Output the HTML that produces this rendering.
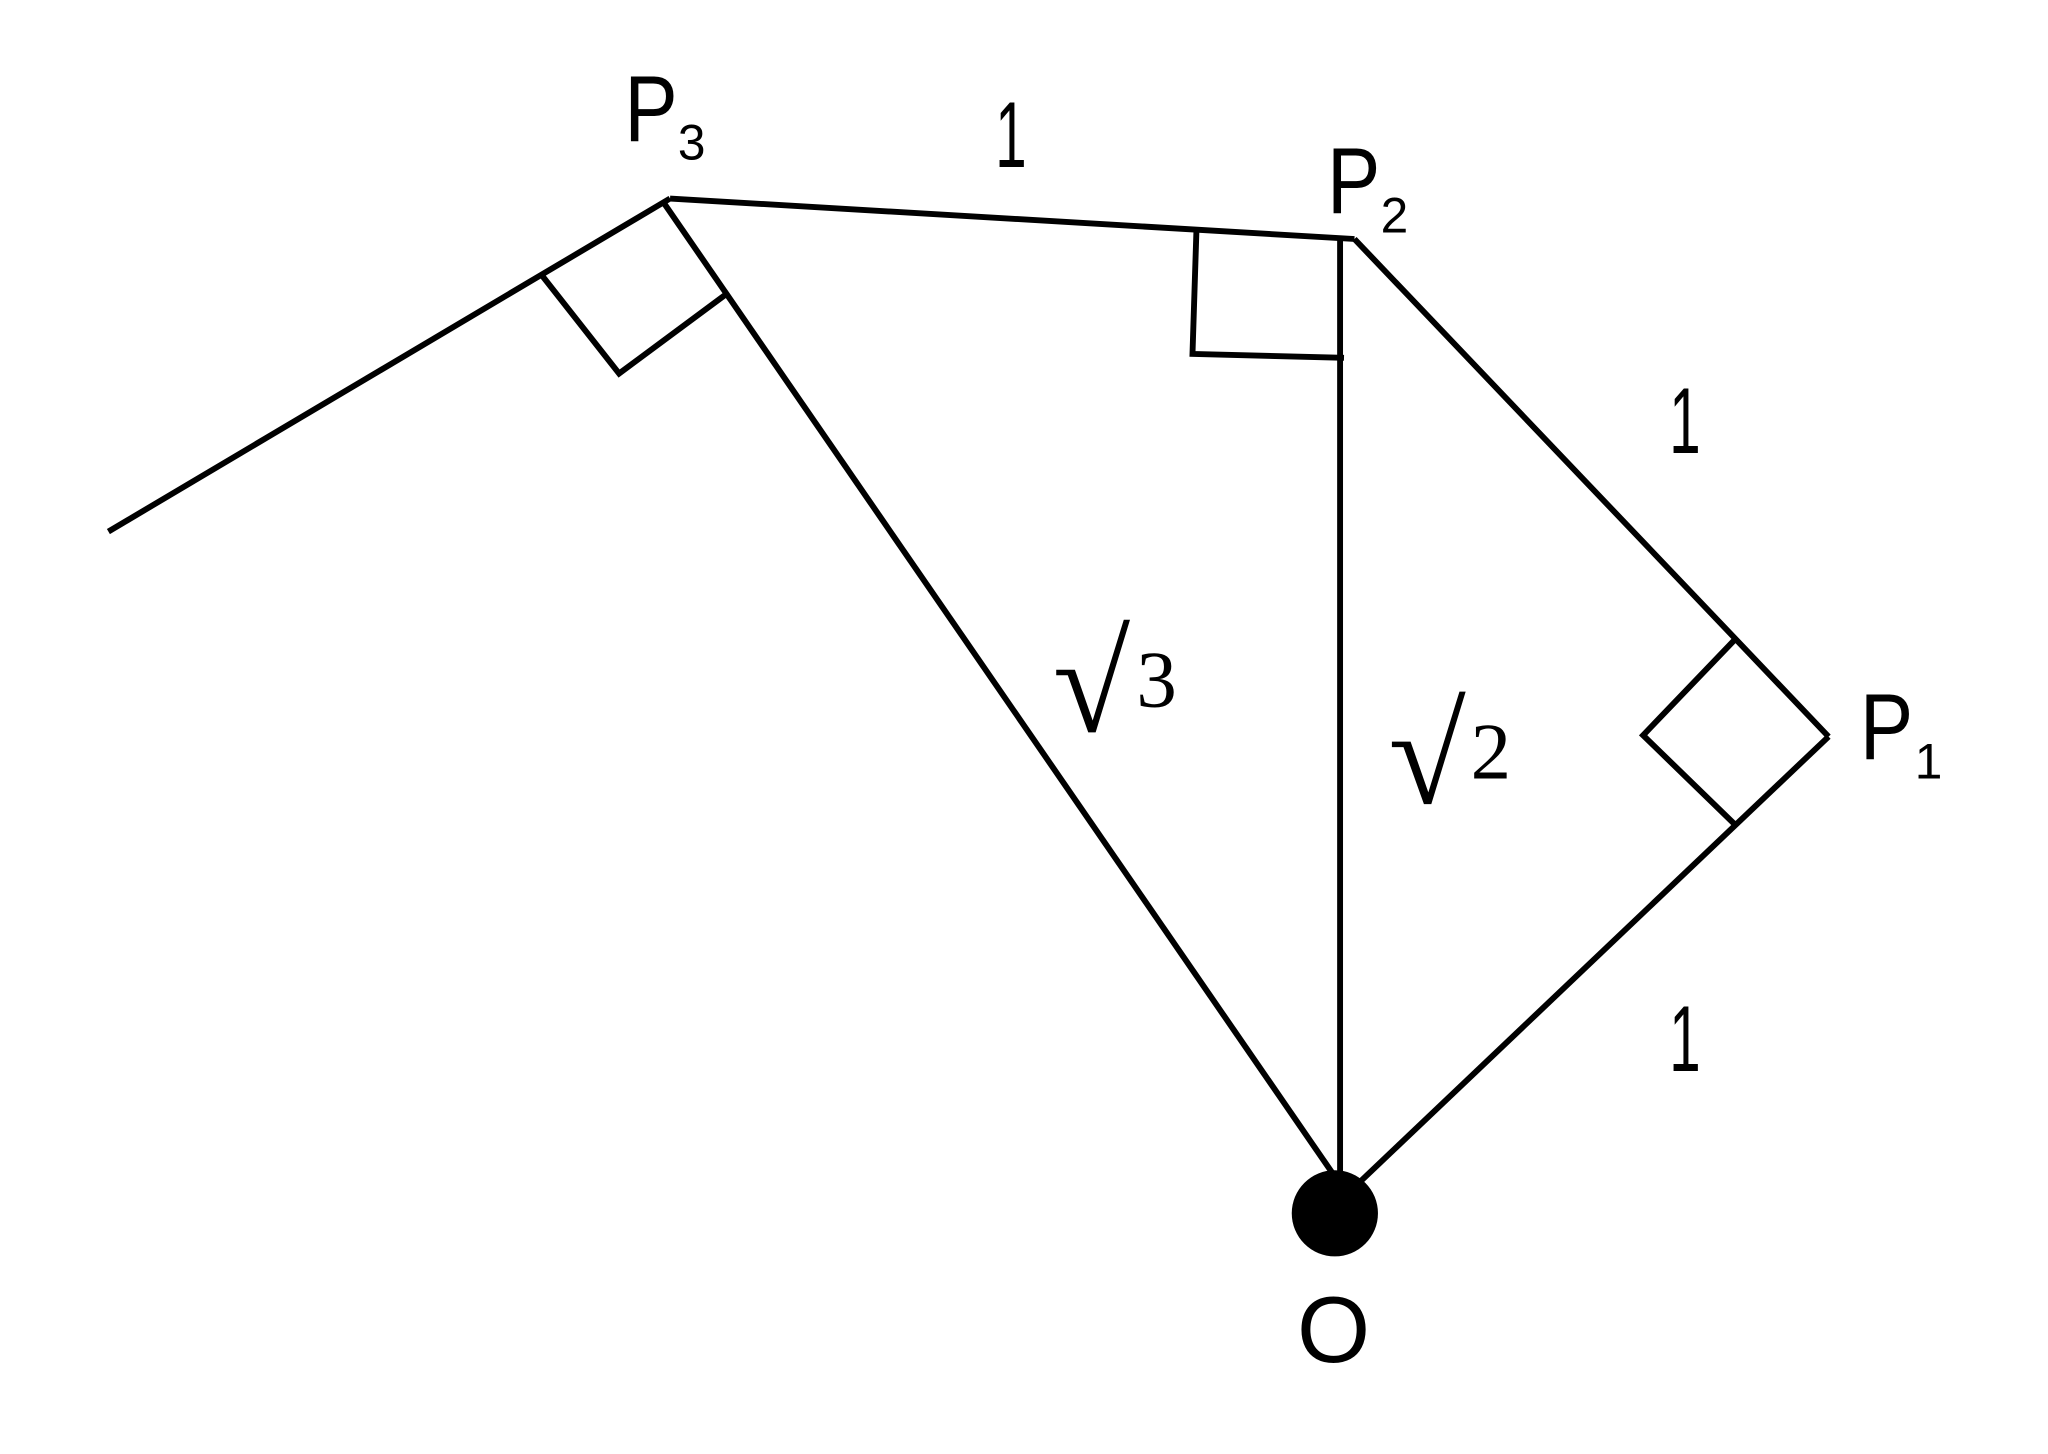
<!DOCTYPE html>
<html><head><meta charset="utf-8"><style>html,body{margin:0;padding:0;background:#fff;}svg{display:block}</style></head>
<body>
<svg width="2048" height="1454" viewBox="0 0 1568 1113.3" preserveAspectRatio="none" xmlns="http://www.w3.org/2000/svg">
<g stroke="#000" stroke-width="4.5" fill="none" stroke-linejoin="miter">
<line x1="83" y1="407" x2="513" y2="152"/>
<line x1="513" y1="152" x2="1037" y2="183"/>
<line x1="1037" y1="183" x2="1400" y2="564"/>
<line x1="1400" y1="564" x2="1038" y2="908"/>
<line x1="508" y1="155" x2="1020" y2="898"/>
<line x1="1026" y1="183" x2="1026" y2="900"/>
<polyline points="415,211 474,286 555,226"/>
<polyline points="916,177 913,271 1029,274"/>
<polyline points="1328,490 1258,563 1328,631"/>
</g>
<circle cx="1022" cy="929" r="33" fill="#000"/>
<g font-family="Liberation Sans, sans-serif" fill="#000">
<text x="478" y="108" font-size="72" transform="translate(478 0) scale(0.85 1) translate(-478 0)">P</text>
<text x="519" y="122" font-size="38">3</text>
<text x="1016" y="163" font-size="72" transform="translate(1016 0) scale(0.85 1) translate(-1016 0)">P</text>
<text x="1057" y="178" font-size="38">2</text>
<text x="1424" y="581" font-size="72" transform="translate(1424 0) scale(0.85 1) translate(-1424 0)">P</text>
<text x="1466" y="596" font-size="38">1</text>
<text x="993" y="1043" font-size="72">O</text>
<text x="762" y="128" font-size="72" transform="translate(762 0) scale(0.6 1) translate(-762 0)">1</text>
<text x="1278" y="347" font-size="72" transform="translate(1278 0) scale(0.6 1) translate(-1278 0)">1</text>
<text x="1278" y="820" font-size="72" transform="translate(1278 0) scale(0.6 1) translate(-1278 0)">1</text>
</g>
<g font-family="Liberation Serif, serif" fill="#000">
<text x="806" y="560" font-size="108">√</text>
<text x="870" y="541" font-size="62">3</text>
<text x="1063" y="615" font-size="108">√</text>
<text x="1126" y="596" font-size="62">2</text>
</g>
</svg>
</body></html>
